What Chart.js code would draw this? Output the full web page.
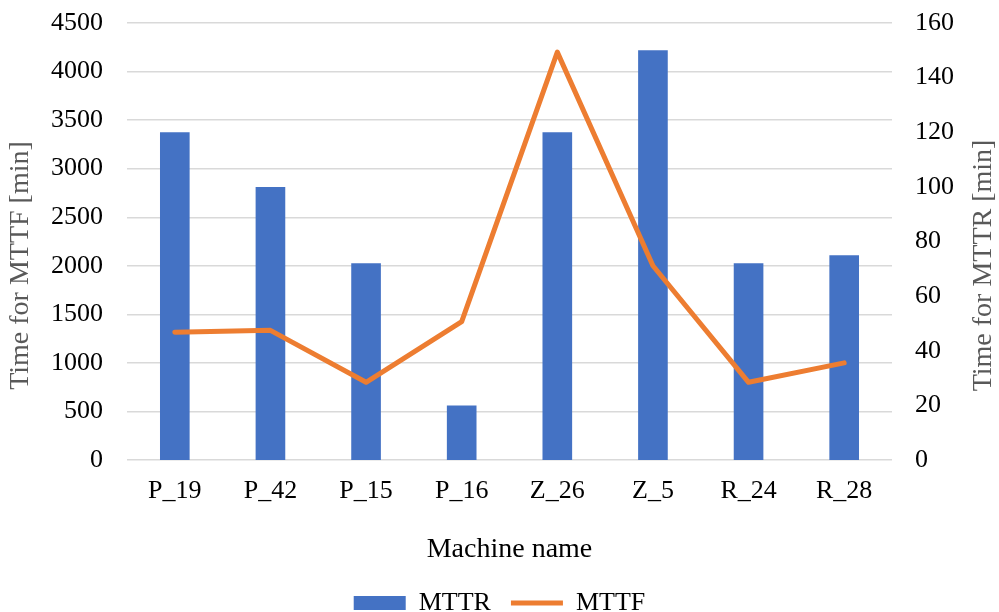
<!DOCTYPE html>
<html>
<head>
<meta charset="utf-8">
<script src="https://cdn.jsdelivr.net/npm/chart.js@4.4.1/dist/chart.umd.min.js"></script>
<style>
  html, body { margin: 0; padding: 0; background: #fff; }
  #wrap { width: 999px; height: 612px; }
</style>
</head>
<body>
<div id="wrap"><canvas id="mttChart"></canvas></div>
<script>
// data
const machines = ["P_19", "P_42", "P_15", "P_16", "Z_26", "Z_5", "R_24", "R_28"];
const mttrValues = [120, 100, 72, 20, 120, 150, 72, 75];          // bars, right axis
const mttfValues = [1315, 1335, 800, 1425, 4200, 2000, 800, 1000]; // line, left axis
const mttfTicks = [0, 4500, 500]; // min, max, step
const mttrTicks = [0, 160, 20];

const serif = '"Liberation Serif", "Times New Roman", serif';
const grey = "#595959";

// vertical axis titles, both read bottom to top
const sideTitles = {
  id: "sideTitles",
  afterDraw(chart) {
    const ctx = chart.ctx;
    const midY = (chart.chartArea.top + chart.chartArea.bottom) / 2 + 24;
    const items = [
      [chart.scales.y.left + 21, "Time for MTTF [min]"],
      [chart.scales.y1.right - 15, "Time for MTTR [min]"],
    ];
    ctx.save();
    ctx.font = "28px " + serif;
    ctx.fillStyle = grey;
    ctx.textAlign = "center";
    ctx.textBaseline = "middle";
    items.forEach(([x, text]) => {
      ctx.save();
      ctx.translate(x, midY);
      ctx.rotate(-Math.PI / 2);
      ctx.fillText(text, 0, 0);
      ctx.restore();
    });
    ctx.restore();
  },
};

// no extra room above/below the plot for the y tick labels
const tightY = (width) => (scale) => {
  scale.width = width;
  scale.paddingTop = 0;
  scale.paddingBottom = 0;
};

const ctx = document.getElementById("mttChart").getContext("2d");
const mttChart = new Chart(ctx, {
  type: "bar",
  data: {
    labels: machines,
    datasets: [
      {
        label: "MTTR",
        data: mttrValues,
        yAxisID: "y1",
        backgroundColor: "#4472C4",
        borderWidth: 0,
        barPercentage: 0.31,
        categoryPercentage: 1,
        pointStyle: "rect",
        order: 2,
      },
      {
        type: "line",
        label: "MTTF",
        data: mttfValues,
        yAxisID: "y",
        borderColor: "#ED7D31",
        backgroundColor: "#ED7D31",
        borderWidth: 5,
        borderCapStyle: "round",
        borderJoinStyle: "round",
        pointRadius: 0,
        pointHoverRadius: 0,
        pointStyle: "line",
        tension: 0,
        order: 1,
      },
    ],
  },
  plugins: [sideTitles],
  options: {
    responsive: true,
    maintainAspectRatio: false,
    animation: false,
    layout: { padding: { top: 23, left: 0, right: 0, bottom: -14 } },
    plugins: {
      tooltip: { enabled: false },
      legend: {
        position: "bottom",
        labels: {
          usePointStyle: true,
          pointStyleWidth: 52,
          boxHeight: 14,
          padding: 20,
          color: "#000",
          font: { family: serif, size: 26 },
          sort: (a, b) => a.datasetIndex - b.datasetIndex,
        },
      },
    },
    scales: {
      x: {
        grid: { display: false },
        border: { display: false },
        ticks: { color: "#000", padding: 8, font: { family: serif, size: 26 } },
        title: {
          display: true,
          text: "Machine name",
          color: "#000",
          padding: { top: 0, bottom: 6 },
          font: { family: serif, size: 28, lineHeight: 1 },
        },
        afterFit: (scale) => { scale.height = 110; },
      },
      y: {
        position: "left",
        min: mttfTicks[0],
        max: mttfTicks[1],
        ticks: {
          stepSize: mttfTicks[2],
          color: "#000",
          padding: 24,
          font: { family: serif, size: 26 },
          callback: (value) => String(value),
        },
        grid: { color: "#d9d9d9", lineWidth: 1.4, drawTicks: false },
        border: { display: false },
        afterFit: tightY(127),
      },
      y1: {
        position: "right",
        min: mttrTicks[0],
        max: mttrTicks[1],
        ticks: {
          stepSize: mttrTicks[2],
          color: "#000",
          padding: 23,
          font: { family: serif, size: 26 },
          callback: (value) => String(value),
        },
        grid: { display: false, drawTicks: false },
        border: { display: false },
        afterFit: tightY(107),
      },
    },
  },
});
</script>
</body>
</html>
